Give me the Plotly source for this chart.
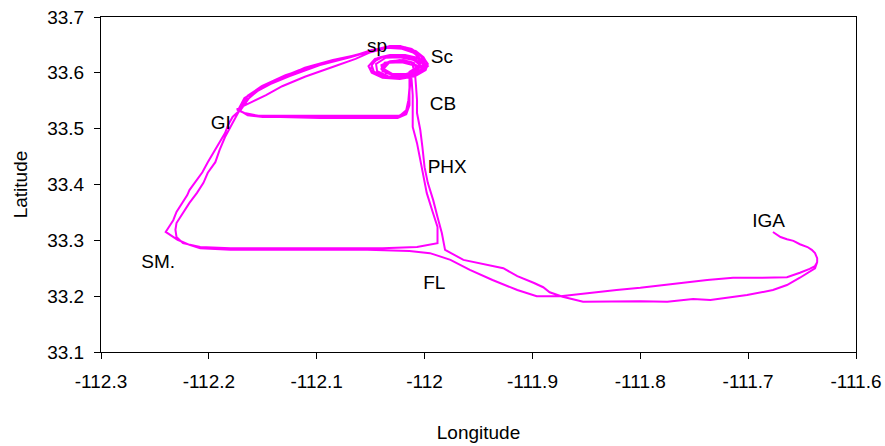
import plotly.graph_objects as go

# ---- Track data (longitude, latitude) ----
# Leg 1: IGA -> hook -> west to SM -> north to GI
leg1_lon = [-111.677, -111.674, -111.670, -111.664, -111.658, -111.652, -111.645, -111.641, -111.638, -111.636,
            -111.636, -111.638, -111.643, -111.652, -111.664, -111.689, -111.714, -111.738, -111.760, -111.782,
            -111.800, -111.822, -111.844, -111.865, -111.874, -111.888, -111.896, -111.914, -111.937, -111.958,
            -111.976, -111.995, -112.014, -112.053, -112.116, -112.180, -112.208, -112.218, -112.229, -112.236,
            -112.240, -112.236, -112.233, -112.230, -112.224, -112.220, -112.218, -112.211, -112.206, -112.201,
            -112.194, -112.190, -112.185, -112.182, -112.178, -112.173]
leg1_lat = [33.315, 33.311, 33.306, 33.302, 33.299, 33.293, 33.288, 33.283, 33.277, 33.268,
            33.261, 33.254, 33.249, 33.242, 33.234, 33.233, 33.233, 33.229, 33.224, 33.218,
            33.215, 33.211, 33.206, 33.202, 33.200, 33.200, 33.200, 33.211, 33.229, 33.247,
            33.265, 33.277, 33.281, 33.283, 33.283, 33.283, 33.286, 33.292, 33.301, 33.310,
            33.315, 33.327, 33.336, 33.351, 33.369, 33.381, 33.390, 33.408, 33.422, 33.440,
            33.462, 33.476, 33.492, 33.507, 33.521, 33.530]

# Leg 2: GI -> sp -> loops at Sc -> CB -> back west to GI
leg2_lon = [-112.165, -112.154, -112.139, -112.116, -112.088, -112.065, -112.051, -112.037, -112.023, -112.012,
            -112.004, -112.000, -112.002, -112.012, -112.023, -112.037, -112.047, -112.049, -112.043, -112.032,
            -112.018, -112.007, -112.001, -112.004, -112.015, -112.027, -112.039, -112.040, -112.032, -112.020,
            -112.010, -112.008, -112.014, -112.014, -112.014, -112.015, -112.018, -112.026, -112.051, -112.088,
            -112.125, -112.150, -112.164, -112.171]
leg2_lat = [33.551, 33.569, 33.587, 33.605, 33.619, 33.630, 33.639, 33.646, 33.648, 33.643,
            33.632, 33.619, 33.605, 33.594, 33.591, 33.593, 33.602, 33.614, 33.627, 33.632,
            33.632, 33.627, 33.616, 33.603, 33.598, 33.596, 33.603, 33.614, 33.621, 33.623,
            33.618, 33.609, 33.602, 33.587, 33.560, 33.542, 33.528, 33.521, 33.521, 33.521,
            33.521, 33.521, 33.524, 33.532]

# Leg 3: second circuit GI -> sp -> Sc -> CB -> GI
leg3_lon = [-112.162, -112.151, -112.132, -112.111, -112.085, -112.063, -112.049, -112.034, -112.020, -112.009,
            -112.001, -111.997, -111.999, -112.009, -112.023, -112.039, -112.049, -112.052, -112.046, -112.034,
            -112.019, -112.006, -112.000, -112.006, -112.018, -112.032, -112.040, -112.037, -112.025, -112.013,
            -112.006, -112.011, -112.013, -112.014, -112.014, -112.017, -112.025, -112.060, -112.097, -112.134,
            -112.154, -112.167, -112.173]
leg3_lat = [33.557, 33.573, 33.591, 33.609, 33.623, 33.632, 33.641, 33.646, 33.645, 33.637,
            33.627, 33.616, 33.605, 33.594, 33.589, 33.591, 33.600, 33.612, 33.625, 33.630,
            33.630, 33.625, 33.612, 33.602, 33.596, 33.598, 33.607, 33.618, 33.621, 33.619,
            33.612, 33.603, 33.587, 33.566, 33.542, 33.526, 33.519, 33.519, 33.519, 33.521,
            33.523, 33.528, 33.533]

# Leg 4: GI -> sp -> Sc -> CB -> south past PHX -> west to SM -> north to GI
leg4_lon = [-112.167, -112.157, -112.143, -112.125, -112.097, -112.069, -112.052, -112.039, -112.025, -112.014,
            -112.006, -112.002, -111.997, -112.001, -112.011, -112.025, -112.036, -112.039, -112.034, -112.023,
            -112.012, -112.007, -112.013, -112.012, -112.011, -112.011, -112.011, -112.007, -112.004, -112.001,
            -111.998, -111.993, -111.988, -111.988, -111.995, -112.007, -112.039, -112.116, -112.180, -112.208,
            -112.224, -112.230, -112.231, -112.230, -112.224, -112.218, -112.211, -112.205, -112.201, -112.194,
            -112.190, -112.185, -112.180, -112.176, -112.173]
leg4_lat = [33.555, 33.566, 33.580, 33.594, 33.614, 33.628, 33.637, 33.645, 33.646, 33.641,
            33.630, 33.619, 33.612, 33.605, 33.596, 33.594, 33.600, 33.610, 33.619, 33.623,
            33.619, 33.610, 33.602, 33.587, 33.560, 33.533, 33.503, 33.474, 33.444, 33.413,
            33.385, 33.354, 33.324, 33.295, 33.292, 33.288, 33.286, 33.286, 33.286, 33.288,
            33.295, 33.306, 33.319, 33.331, 33.349, 33.367, 33.385, 33.403, 33.421, 33.440,
            33.462, 33.485, 33.503, 33.519, 33.528]

# Leg 5: GI -> sp -> Sc -> CB -> GI
leg5_lon = [-112.164, -112.151, -112.129, -112.106, -112.078, -112.060, -112.046, -112.032, -112.018, -112.008,
            -112.001, -111.998, -112.001, -112.014, -112.027, -112.041, -112.050, -112.048, -112.039, -112.025,
            -112.012, -112.004, -112.006, -112.017, -112.030, -112.038, -112.033, -112.021, -112.011, -112.010,
            -112.014, -112.014, -112.015, -112.017, -112.023, -112.051, -112.097, -112.134, -112.157, -112.167,
            -112.174]
leg5_lat = [33.559, 33.576, 33.596, 33.610, 33.625, 33.634, 33.641, 33.648, 33.646, 33.639,
            33.628, 33.618, 33.603, 33.593, 33.591, 33.594, 33.605, 33.619, 33.628, 33.630,
            33.627, 33.618, 33.605, 33.598, 33.598, 33.607, 33.618, 33.619, 33.614, 33.605,
            33.596, 33.573, 33.551, 33.533, 33.523, 33.523, 33.523, 33.523, 33.523, 33.528,
            33.535]

# Leg 6: GI -> sp -> Sc -> CB -> south past PHX -> FL -> east back to IGA
leg6_lon = [-112.160, -112.147, -112.132, -112.111, -112.086, -112.064, -112.050, -112.035, -112.021, -112.010,
            -112.003, -112.001, -112.008, -112.021, -112.034, -112.044, -112.045, -112.036, -112.023, -112.010,
            -112.003, -112.009, -112.008, -112.007, -112.007, -112.004, -112.002, -112.000, -111.997, -111.992,
            -111.988, -111.984, -111.981, -111.964, -111.927, -111.914, -111.899, -111.890, -111.884, -111.872,
            -111.853, -111.828, -111.800, -111.775, -111.751, -111.735, -111.714, -111.701, -111.677, -111.664,
            -111.652, -111.643, -111.638, -111.636]
leg6_lat = [33.548, 33.560, 33.576, 33.593, 33.610, 33.625, 33.637, 33.645, 33.643, 33.636,
            33.623, 33.610, 33.598, 33.593, 33.594, 33.603, 33.616, 33.627, 33.628, 33.623,
            33.612, 33.602, 33.578, 33.551, 33.528, 33.498, 33.467, 33.431, 33.403, 33.372,
            33.342, 33.313, 33.283, 33.265, 33.250, 33.236, 33.224, 33.216, 33.207, 33.199,
            33.190, 33.191, 33.191, 33.190, 33.195, 33.193, 33.199, 33.202, 33.211, 33.220,
            33.233, 33.243, 33.250, 33.261]

# ---- Place labels ----
place_names = ["sp", "Sc", "CB", "PHX", "GI", "SM.", "FL", "IGA"]
place_lon = [-112.044, -111.984, -111.983, -111.979, -112.189, -112.247, -111.991, -111.681]
place_lat = [33.646, 33.627, 33.542, 33.430, 33.508, 33.259, 33.222, 33.332]

# ---- Axis ticks ----
x_ticks = [-112.3, -112.2, -112.1, -112.0, -111.9, -111.8, -111.7, -111.6]
x_tick_text = ["-112.3", "-112.2", "-112.1", "-112", "-111.9", "-111.8", "-111.7", "-111.6"]
y_ticks = [33.1, 33.2, 33.3, 33.4, 33.5, 33.6, 33.7]
y_tick_text = ["33.1", "33.2", "33.3", "33.4", "33.5", "33.6", "33.7"]

track_lon = leg1_lon + leg2_lon + leg3_lon + leg4_lon + leg5_lon + leg6_lon
track_lat = leg1_lat + leg2_lat + leg3_lat + leg4_lat + leg5_lat + leg6_lat

FONT = "Liberation Sans, Arial, sans-serif"

fig = go.Figure()
fig.add_trace(go.Scatter(
    x=track_lon, y=track_lat, mode="lines",
    line=dict(color="#FF00FF", width=2),
    showlegend=False, hoverinfo="skip", cliponaxis=False,
))
fig.add_trace(go.Scatter(
    x=place_lon, y=place_lat, mode="text", text=place_names,
    textposition="middle center",
    textfont=dict(family=FONT, size=19, color="black"),
    showlegend=False, hoverinfo="skip",
))

axis_common = dict(
    showgrid=False, zeroline=False, automargin=False,
    showline=True, linecolor="black", linewidth=1, mirror=True,
    ticks="outside", ticklen=6, tickcolor="black", tickwidth=1,
    tickfont=dict(family=FONT, size=19, color="black"),
)

fig.update_layout(
    width=885, height=446,
    margin=dict(l=101, r=29, t=17, b=94),
    paper_bgcolor="white", plot_bgcolor="white",
    font=dict(family=FONT, size=19, color="black"),
    xaxis=dict(range=[-112.3, -111.6], tickvals=x_ticks, ticktext=x_tick_text,
               ticklabelstandoff=6,
               title=dict(text="Longitude", font=dict(family=FONT, size=19), standoff=34),
               **axis_common),
    yaxis=dict(range=[33.1, 33.7], tickvals=y_ticks, ticktext=y_tick_text,
               ticklabelstandoff=6,
               title=dict(text="Latitude", font=dict(family=FONT, size=19), standoff=14),
               **axis_common),
)

fig.write_html("out.html", config={"displayModeBar": False},
               post_script="document.body.style.margin='0';document.body.style.overflow='hidden';")
